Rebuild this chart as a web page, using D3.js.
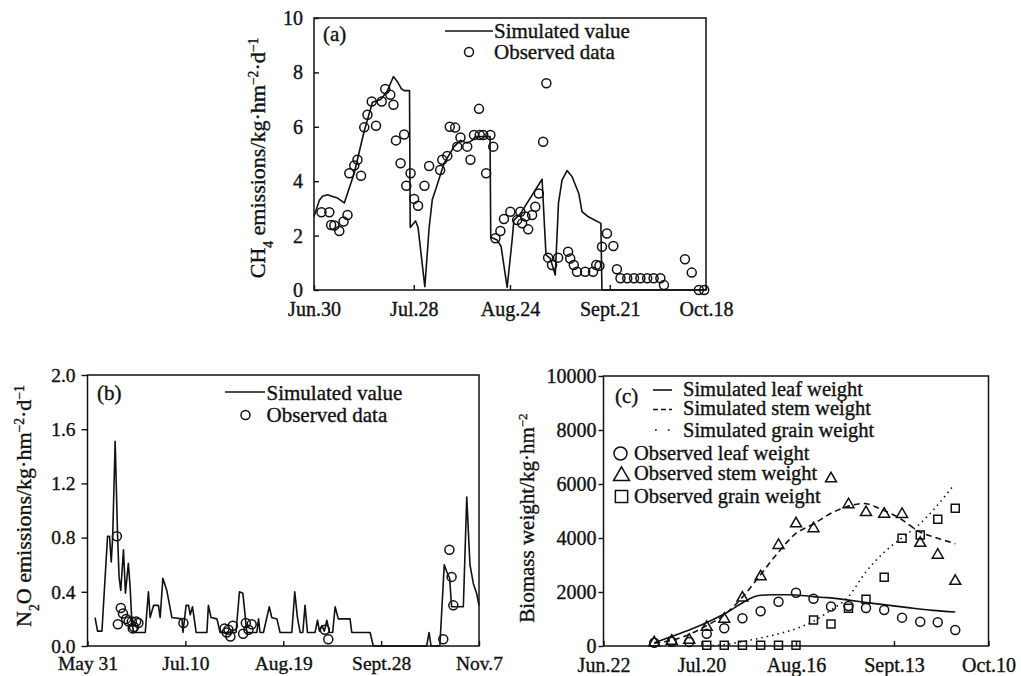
<!DOCTYPE html>
<html>
<head>
<meta charset="utf-8">
<script src="https://cdn.jsdelivr.net/npm/d3@7"></script>
<style>
  body { margin: 0; background: #fff; }
  svg text { font-family: 'Liberation Serif', 'Times New Roman', serif; fill: #111; stroke: #111; stroke-width: 0.35px; }
  .axis path { display: none; }
  .axis line { stroke: #111; stroke-width: 1.4; }
  .axis text { font-size: 20px; }
</style>
</head>
<body>
<div id="chart"></div>
<script>
// ---- (a) CH4, days counted from Jun.30 ----
const ch4TickDays = [0, 28, 55, 83, 110]
const ch4TickLabels = ['Jun.30', 'Jul.28', 'Aug.24', 'Sept.21', 'Oct.18']
const ch4YTicks = [0, 2, 4, 6, 8, 10]

const ch4Simulated = [
  [0, 2.7], [1.5, 3.3], [2.4, 3.45], [3.8, 3.5], [5, 3.45], [6.6, 3.38], [8.5, 3.2], [11.3, 4.3],
  [14, 5.8], [16.4, 6.9], [18.7, 7.0], [20.5, 7.3], [22.3, 7.85], [23.4, 7.66], [24.5, 7.4],
  [25.3, 7.33], [26.8, 7.33], [27.0, 2.3], [28.5, 2.54], [29.2, 2.3], [31.1, 0.12], [32.3, 2.27],
  [33.2, 3.33], [34.1, 3.68], [36.5, 4.66], [39.3, 5.27], [41.1, 5.5], [43.0, 5.4], [44.4, 5.5],
  [45.3, 5.64], [49.4, 5.64], [49.6, 1.94], [51.4, 1.84], [52.5, 1.6], [54.2, 0.1], [55.6, 1.84],
  [56.1, 2.57], [57.9, 2.8], [64, 4.07], [65.1, 1.29], [66.3, 1.16], [67.7, 0.55], [68.6, 3.19],
  [69.6, 4.04], [71, 4.39], [72.4, 4.17], [74.3, 3.55], [75.2, 2.88], [77.0, 2.69], [80.5, 2.45],
  [80.8, 0], [110, 0]
]

const ch4Observed = [
  [2.1, 2.86], [4.3, 2.86], [4.8, 2.39], [5.7, 2.37], [7.1, 2.17], [8.3, 2.52], [9.4, 2.76],
  [9.9, 4.29], [11.3, 4.58], [12.2, 4.79], [13.2, 4.2], [14.1, 5.98], [15.0, 6.44], [16.2, 6.93],
  [17.4, 6.04], [19.0, 6.93], [20.0, 7.39], [21.4, 7.18], [22.3, 6.81], [23.0, 5.5], [24.3, 4.66],
  [25.3, 5.72], [25.9, 3.83], [27.1, 4.29], [28.1, 3.35], [29.2, 3.1], [31.0, 3.83], [32.3, 4.56],
  [35.4, 4.41], [36.0, 4.79], [37.4, 4.93], [38.1, 6.0], [39.6, 5.97], [40.2, 5.27], [41.1, 5.61],
  [43.0, 5.27], [43.9, 4.79], [44.9, 5.7], [46.3, 6.66], [46.5, 5.7], [47.5, 5.7], [48.3, 4.29],
  [49.5, 5.7], [50.3, 5.27], [50.9, 1.9], [52.3, 2.17], [53.3, 2.61], [55.1, 2.88], [57.0, 2.57],
  [57.9, 2.88], [58.4, 2.45], [59.3, 2.7], [60.1, 2.23], [61.2, 2.76], [62.1, 3.06], [63.1, 3.55],
  [64.3, 5.45], [65.2, 7.6], [65.7, 1.19], [66.8, 0.92], [68.5, 1.19], [71.3, 1.41], [71.9, 1.16],
  [72.9, 0.92], [73.8, 0.67], [76.1, 0.67], [78.3, 0.67], [79.2, 0.92], [80.1, 0.89], [80.8, 1.59],
  [82.2, 2.08], [84.0, 1.62], [85.0, 0.76], [86.0, 0.43], [87.9, 0.43], [89.8, 0.43], [91.6, 0.43],
  [93.5, 0.43], [95.3, 0.43], [97.2, 0.43], [98.2, 0.18], [104.1, 1.13], [106.0, 0.64], [108.0, 0],
  [109.5, 0]
]

// ---- (b) N2O, days counted from May 31 ----
const n2oTickDays = [0, 40, 80, 120, 160]
const n2oTickLabels = ['May 31', 'Jul.10', 'Aug.19', 'Sept.28', 'Nov.7']
const n2oYTicks = [0, 0.4, 0.8, 1.2, 1.6, 2.0]

const n2oSimulated = [
  [3.1, 0.21], [4.1, 0.11], [5.9, 0.11], [8.2, 0.81], [9.0, 0.81], [9.7, 0.62], [10.3, 0.81],
  [11.3, 1.51], [12.3, 0.81], [12.9, 0.51], [13.6, 0.41], [14.7, 0.71], [15.5, 0.39], [16.7, 0.61],
  [17.4, 0.44], [18.1, 0.19], [18.8, 0.1], [23.6, 0.1], [24.9, 0.4], [25.6, 0.21], [27.0, 0.3],
  [29.0, 0.3], [29.7, 0.21], [30.8, 0.5], [32.4, 0.41], [34.5, 0.21], [38.6, 0.2], [39.0, 0.1],
  [40.3, 0.3], [41.3, 0.3], [42.0, 0.23], [42.9, 0.29], [44.4, 0.1], [48.8, 0.1], [49.4, 0.3],
  [50.5, 0.21], [52.9, 0.2], [54.2, 0.1], [60.7, 0.1], [62.1, 0.4], [63.5, 0.39], [65.1, 0.1],
  [69.2, 0.1], [69.9, 0.2], [70.5, 0.1], [71.9, 0.1], [74.3, 0.29], [75.3, 0.21], [77.4, 0.2],
  [78.7, 0.1], [83.5, 0.1], [84.7, 0.4], [85.8, 0.21], [86.9, 0.1], [88.0, 0.1], [88.9, 0.3],
  [89.9, 0.1], [93.0, 0.1], [94.0, 0.19], [94.8, 0.11], [95.8, 0.15], [96.8, 0.11], [97.8, 0.19],
  [98.9, 0.1], [100.2, 0.1], [101.2, 0.29], [102.5, 0.2], [107.3, 0.2], [108.0, 0.1], [115.5, 0.1],
  [116.8, 0], [138.6, 0], [139.6, 0.1], [140.4, 0], [144.0, 0], [145.8, 0.6], [146.8, 0.55],
  [148.0, 0.5], [148.8, 0.29], [153.6, 0.29], [155.0, 1.1], [156.3, 0.6], [157.7, 0.46],
  [159.0, 0.39], [160.0, 0.3]
]

const n2oObserved = [
  [12.0, 0.81], [12.4, 0.16], [13.6, 0.28], [14.5, 0.24], [15.8, 0.2], [16.8, 0.18], [18.1, 0.18],
  [18.5, 0.13], [19.0, 0.14], [19.9, 0.18], [20.8, 0.17], [39.2, 0.17], [56.0, 0.13], [56.9, 0.1],
  [57.6, 0.12], [58.4, 0.07], [59.4, 0.15], [63.6, 0.09], [64.7, 0.17], [65.8, 0.12], [67.1, 0.16],
  [97.0, 0.12], [98.4, 0.05], [145.4, 0.05], [147.9, 0.71], [148.8, 0.51], [149.5, 0.3]
]

// ---- (c) biomass, days counted from Jun.22 ----
const bioTickDays = [0, 28, 55, 83, 110]
const bioTickLabels = ['Jun.22', 'Jul.20', 'Aug.16', 'Sept.13', 'Oct.10']
const bioYTicks = [0, 2000, 4000, 6000, 8000, 10000]

const leafSimulated = [
  [14.5, 120], [19, 330], [25, 620], [30, 900], [35, 1220], [40, 1620], [44, 1860], [48, 1900],
  [53, 1900], [60, 1830], [64, 1790], [70, 1700], [77, 1580], [87, 1420], [94, 1320], [100.5, 1260]
]
const stemSimulated = [
  [14.5, 100], [20, 230], [25, 460], [29.5, 760], [34.5, 1150], [39.5, 1780], [44.8, 2630],
  [49.8, 3450], [54.8, 4150], [60, 4520], [65.7, 4960], [70, 5180], [74.5, 5280], [79, 5080],
  [85, 4700], [90, 4250], [95, 4010], [100.5, 3790]
]
const grainSimulated = [
  [28, 0], [35, 60], [40, 170], [45, 300], [50, 450], [55, 640], [60, 920], [65, 1330],
  [70, 1830], [75, 2750], [80, 3450], [85, 3980], [90, 4480], [95, 5150], [100, 5950]
]

const bioDays = [14.5, 19.5, 24.5, 29.5, 34.5, 39.7, 44.9, 50, 55, 60, 65, 70, 75, 80.2, 85.3, 90.5, 95.5, 100.5]
const leafObserved = [123, 160, 150, 450, 655, 1025, 1290, 1640, 1970, 1750, 1460, 1480, 1410, 1333, 1050, 900, 880, 593]
const stemObserved = [123, 185, 222, 700, 1000, 1780, 2570, 3730, 4530, 4350, 6200, 5240, 4950, 4890, 4880, 3810, 3370, 2400]
const grainObserved = [null, null, null, 30, 30, 30, 30, 30, 30, 963, 815, 1395, 1730, 2545, 3990, 4110, 4690, 5100]


const svg = d3.select('#chart')
  .append('svg')
  .attr('width', 1021)
  .attr('height', 676)

function createScales(dims) {
  const x = d3.scaleLinear().domain(dims.xDomain).range([dims.left, dims.right])
  const y = d3.scaleLinear().domain(dims.yDomain).range([dims.bottom, dims.top])
  return { x, y }
}

function renderFrame(dims) {
  svg.append('rect')
    .attr('x', dims.left)
    .attr('y', dims.top)
    .attr('width', dims.right - dims.left)
    .attr('height', dims.bottom - dims.top)
    .attr('fill', 'none')
    .attr('stroke', '#111')
    .attr('stroke-width', 1.5)
}

function renderXaxis(dims, x, tickDays, tickLabels) {
  const xAxis = d3.axisBottom(x)
    .tickValues(tickDays)
    .tickSizeInner(-5)
    .tickSizeOuter(0)
    .tickPadding(dims.xPad)
    .tickFormat((d, i) => tickLabels[i])

  const g = svg.append('g')
    .attr('class', 'axis')
    .attr('transform', `translate(0, ${dims.bottom})`)
    .call(xAxis)
  g.selectAll('.tick text').style('font-size', `${dims.tickFont}px`)
}

function renderYaxis(dims, y, ticks, fmt) {
  const yAxis = d3.axisLeft(y)
    .tickValues(ticks)
    .tickSizeInner(dims.yTickSize)
    .tickSizeOuter(0)
    .tickPadding(dims.yPad)
    .tickFormat(fmt)

  const g = svg.append('g')
    .attr('class', 'axis')
    .attr('transform', `translate(${dims.left}, 0)`)
    .call(yAxis)
  g.selectAll('.tick text').style('font-size', `${dims.tickFont}px`)
}

// rotated axis title built from [text, shift] parts
function renderYtitle(cx, cy, size, parts) {
  const t = svg.append('text')
    .attr('transform', `translate(${cx}, ${cy}) rotate(-90)`)
    .attr('text-anchor', 'middle')
    .style('font-size', `${size}px`)
  parts.forEach(([txt, shift]) => {
    const ts = t.append('tspan').text(txt)
    if (shift) {
      ts.attr('baseline-shift', shift).style('font-size', `${size * 0.62}px`)
    }
  })
}

function renderLine(data, x, y, dash, curve) {
  const line = d3.line()
    .x(d => x(d[0]))
    .y(d => y(d[1]))
    .curve(curve || d3.curveLinear)
  svg.append('path')
    .datum(data)
    .attr('d', line)
    .attr('fill', 'none')
    .attr('stroke', '#111')
    .attr('stroke-width', 1.6)
    .attr('stroke-dasharray', dash || null)
    .attr('stroke-linejoin', 'round')
}

function renderMarkers(data, x, y, symbol, size) {
  svg.append('g')
    .selectAll('path')
    .data(data)
    .enter()
    .append('path')
    .attr('d', d3.symbol().type(symbol).size(size))
    .attr('transform', d => `translate(${x(d[0])}, ${y(d[1])})`)
    .attr('fill', 'none')
    .attr('stroke', '#111')
    .attr('stroke-width', 1.5)
}

function legendText(x, y, txt, size) {
  svg.append('text')
    .attr('x', x)
    .attr('y', y)
    .style('font-size', `${size}px`)
    .text(txt)
}

function legendLine(x1, x2, y, dash) {
  svg.append('line')
    .attr('x1', x1).attr('x2', x2)
    .attr('y1', y).attr('y2', y)
    .attr('stroke', '#111')
    .attr('stroke-width', 1.6)
    .attr('stroke-dasharray', dash || null)
}

function legendSymbol(cx, cy, symbol, size) {
  svg.append('path')
    .attr('d', d3.symbol().type(symbol).size(size))
    .attr('transform', `translate(${cx}, ${cy})`)
    .attr('fill', 'none')
    .attr('stroke', '#111')
    .attr('stroke-width', 1.5)
}

const circleSize = Math.PI * 4.5 * 4.5

// ---------- panel (a) ----------
const dimsA = {
  left: 314, right: 706, top: 18, bottom: 290,
  xDomain: [0, 110], yDomain: [0, 10],
  xPad: 12, yPad: 11, yTickSize: -5, tickFont: 20
}
const scA = createScales(dimsA)
renderLine(ch4Simulated, scA.x, scA.y)
renderMarkers(ch4Observed, scA.x, scA.y, d3.symbolCircle, circleSize)
renderFrame(dimsA)
renderXaxis(dimsA, scA.x, ch4TickDays, ch4TickLabels)
renderYaxis(dimsA, scA.y, ch4YTicks, d3.format('d'))
renderYtitle(265, 158, 22, [['CH'], ['4', 'sub'], [' emissions/kg·hm'], ['−2', 'super'], ['·d'], ['−1', 'super']])
legendText(323, 41, '(a)', 21)
legendLine(445, 493, 31)
legendText(494, 38, 'Simulated value', 21)
legendSymbol(469, 52, d3.symbolCircle, circleSize)
legendText(494, 59, 'Observed data', 21)

// ---------- panel (b) ----------
const dimsB = {
  left: 87.5, right: 479, top: 375, bottom: 646,
  xDomain: [0, 160], yDomain: [0, 2],
  xPad: 10, yPad: 6, yTickSize: 6, tickFont: 19.5
}
const scB = createScales(dimsB)
renderLine(n2oSimulated, scB.x, scB.y)
renderMarkers(n2oObserved, scB.x, scB.y, d3.symbolCircle, circleSize)
renderFrame(dimsB)
renderXaxis(dimsB, scB.x, n2oTickDays, n2oTickLabels)
renderYaxis(dimsB, scB.y, n2oYTicks, d3.format('.1f'))
renderYtitle(31, 506, 22, [['N'], ['2', 'sub'], ['O emissions/kg·hm'], ['−2', 'super'], ['·d'], ['−1', 'super']])
legendText(97, 400, '(b)', 21)
legendLine(225, 265, 392)
legendText(266.5, 400, 'Simulated value', 21)
legendSymbol(245.5, 415, d3.symbolCircle, circleSize)
legendText(266.5, 422, 'Observed data', 21)

// ---------- panel (c) ----------
const dimsC = {
  left: 603.5, right: 988.5, top: 376, bottom: 646,
  xDomain: [0, 110], yDomain: [0, 10000],
  xPad: 12, yPad: 2, yTickSize: 5, tickFont: 20
}
const scC = createScales(dimsC)
renderLine(leafSimulated, scC.x, scC.y, null, d3.curveMonotoneX)
renderLine(stemSimulated, scC.x, scC.y, '6,4', d3.curveMonotoneX)
renderLine(grainSimulated, scC.x, scC.y, '1.5,4', d3.curveMonotoneX)
const pick = vals => bioDays.map((d, i) => [d, vals[i]]).filter(p => p[1] != null)
renderMarkers(pick(leafObserved), scC.x, scC.y, d3.symbolCircle, circleSize)
renderMarkers(pick(stemObserved), scC.x, scC.y, d3.symbolTriangle, 52)
renderMarkers(pick(grainObserved), scC.x, scC.y, d3.symbolSquare, 64)
renderFrame(dimsC)
renderXaxis(dimsC, scC.x, bioTickDays, bioTickLabels)
renderYaxis(dimsC, scC.y, bioYTicks, d3.format('d'))
renderYtitle(534, 518, 21, [['Biomass weight/kg·hm'], ['−2', 'super']])
legendText(615, 403, '(c)', 21)
legendLine(653, 672, 390)
legendText(683, 396, 'Simulated leaf weight', 20.5)
legendLine(653, 672, 409.5, '5,3')
legendText(683, 415, 'Simulated stem weight', 20.5)
legendLine(655, 672, 430, '1.8,11')
legendText(683, 436.5, 'Simulated grain weight', 20.5)
legendSymbol(620.5, 453.5, d3.symbolCircle, Math.PI * 6.5 * 6.5)
legendText(634, 460, 'Observed leaf weight', 20.5)
legendSymbol(621.5, 476, d3.symbolTriangle, 110)
legendText(634, 480, 'Observed stem weight', 20.5)
legendSymbol(621.5, 496.5, d3.symbolSquare, 150)
legendText(634, 503, 'Observed grain weight', 20.5)
</script>
</body>
</html>
